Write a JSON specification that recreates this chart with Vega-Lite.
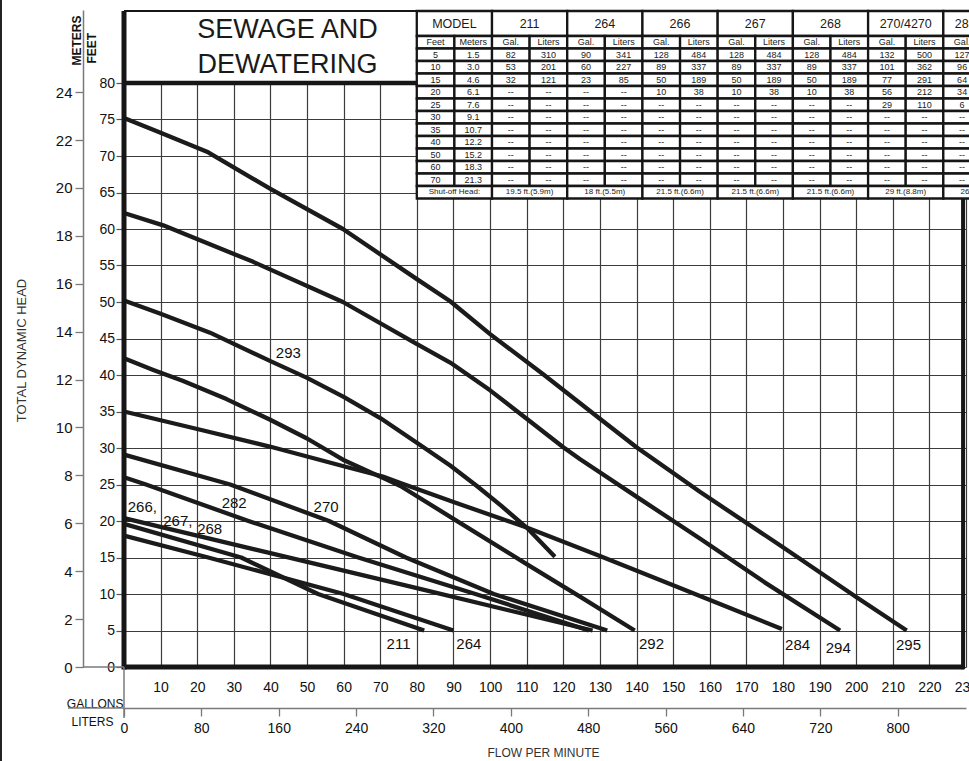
{
 "$schema": "https://vega.github.io/schema/vega-lite/v6.json",
 "width": 842,
 "height": 657,
 "autosize": {"type": "none"},
 "padding": {"left": 124, "top": 10, "right": 3, "bottom": 94},
 "background": "#ffffff",
 "config": {
  "view": {"stroke": null},
  "font": "Liberation Sans",
  "axis": {"labelFont": "Liberation Sans", "titleFont": "Liberation Sans", "labelColor": "#111111", "titleColor": "#111111", "titleFontWeight": "normal", "labelOverlap": false, "labelFlush": false}
 },
 "datasets": {
  "curves": [
   {"m":"295","g":0,"h":75.2},{"m":"295","g":10,"h":73.2},{"m":"295","g":23,"h":70.5},{"m":"295","g":40,"h":65.5},{"m":"295","g":59.8,"h":60},{"m":"295","g":79.8,"h":53.2},{"m":"295","g":89.1,"h":50.1},{"m":"295","g":100,"h":45.6},{"m":"295","g":114.5,"h":40.1},{"m":"295","g":130,"h":34},{"m":"295","g":140,"h":30.1},{"m":"295","g":157.3,"h":24},{"m":"295","g":180,"h":16.4},{"m":"295","g":200,"h":9.6},{"m":"295","g":213.8,"h":5},
   {"m":"294","g":0,"h":62.2},{"m":"294","g":10.7,"h":60.5},{"m":"294","g":35.3,"h":55.5},{"m":"294","g":59.8,"h":50},{"m":"294","g":79.8,"h":44.3},{"m":"294","g":89.1,"h":41.7},{"m":"294","g":100,"h":37.9},{"m":"294","g":110,"h":34},{"m":"294","g":120,"h":30.1},{"m":"294","g":124.5,"h":28.5},{"m":"294","g":141,"h":23},{"m":"294","g":157.3,"h":17.6},{"m":"294","g":175,"h":11.6},{"m":"294","g":195.6,"h":5},
   {"m":"293","g":0,"h":50.2},{"m":"293","g":10,"h":48.4},{"m":"293","g":23.5,"h":45.8},{"m":"293","g":40,"h":41.9},{"m":"293","g":50,"h":39.6},{"m":"293","g":60,"h":37},{"m":"293","g":70,"h":34.1},{"m":"293","g":80.9,"h":30.4},{"m":"293","g":89.1,"h":27.6},{"m":"293","g":96.4,"h":24.8},{"m":"293","g":103,"h":22.1},{"m":"293","g":110,"h":19.1},{"m":"293","g":117.7,"h":15.1},
   {"m":"292","g":0,"h":42.3},{"m":"292","g":8,"h":40.7},{"m":"292","g":16,"h":39.2},{"m":"292","g":28,"h":36.7},{"m":"292","g":39.8,"h":33.9},{"m":"292","g":50,"h":31.3},{"m":"292","g":59.8,"h":28.4},{"m":"292","g":71.6,"h":25.7},{"m":"292","g":75.5,"h":24.8},{"m":"292","g":90,"h":20.3},{"m":"292","g":110,"h":14.1},{"m":"292","g":125,"h":9.5},{"m":"292","g":139.5,"h":5},
   {"m":"284","g":0,"h":35},{"m":"284","g":20,"h":32.6},{"m":"284","g":39.8,"h":30.2},{"m":"284","g":60,"h":27.5},{"m":"284","g":70.7,"h":26.1},{"m":"284","g":75.5,"h":25.2},{"m":"284","g":90,"h":22.6},{"m":"284","g":110,"h":19.1},{"m":"284","g":130,"h":15.2},{"m":"284","g":150,"h":11.2},{"m":"284","g":165,"h":8.2},{"m":"284","g":179.7,"h":5.2},
   {"m":"270","g":0,"h":29.1},{"m":"270","g":29,"h":25},{"m":"270","g":56,"h":20},{"m":"270","g":77,"h":15},{"m":"270","g":101,"h":10},{"m":"270","g":132,"h":5},
   {"m":"282","g":0,"h":26},{"m":"282","g":6,"h":25},{"m":"282","g":34,"h":20},{"m":"282","g":64,"h":15},{"m":"282","g":96,"h":10},{"m":"282","g":127,"h":5},
   {"m":"266/267/268","g":0,"h":20.4},{"m":"266/267/268","g":40,"h":15.6},{"m":"266/267/268","g":80,"h":10.8},{"m":"266/267/268","g":128,"h":5},
   {"m":"264","g":0,"h":18},{"m":"264","g":23,"h":15},{"m":"264","g":60,"h":10},{"m":"264","g":90,"h":5},
   {"m":"211","g":0,"h":19.6},{"m":"211","g":32,"h":15},{"m":"211","g":53,"h":10},{"m":"211","g":82,"h":5}
  ],
  "labels": [
   {"t":"293","g":44.9,"h":43.0},
   {"t":"266,","g":5.0,"h":21.9},
   {"t":"267,","g":14.7,"h":20.0},
   {"t":"268","g":23.4,"h":18.9},
   {"t":"282","g":30.1,"h":22.4},
   {"t":"270","g":55.2,"h":21.95},
   {"t":"211","g":75.0,"h":3.15},
   {"t":"264","g":94.2,"h":3.1},
   {"t":"292","g":144.1,"h":3.1},
   {"t":"284","g":184.0,"h":2.95},
   {"t":"294","g":195.1,"h":2.65},
   {"t":"295","g":214.3,"h":2.95}
  ],
  "cells": [
   {"c0":0,"c1":2,"r0":0,"r1":2,"t":"MODEL"},
   {"c0":2,"c1":4,"r0":0,"r1":2,"t":"211"},
   {"c0":4,"c1":6,"r0":0,"r1":2,"t":"264"},
   {"c0":6,"c1":8,"r0":0,"r1":2,"t":"266"},
   {"c0":8,"c1":10,"r0":0,"r1":2,"t":"267"},
   {"c0":10,"c1":12,"r0":0,"r1":2,"t":"268"},
   {"c0":12,"c1":14,"r0":0,"r1":2,"t":"270/4270"},
   {"c0":14,"c1":16,"r0":0,"r1":2,"t":"282/4282"},
   {"c0":0,"c1":1,"r0":2,"r1":3,"t":"Feet"},{"c0":1,"c1":2,"r0":2,"r1":3,"t":"Meters"},
   {"c0":2,"c1":3,"r0":2,"r1":3,"t":"Gal."},{"c0":3,"c1":4,"r0":2,"r1":3,"t":"Liters"},
   {"c0":4,"c1":5,"r0":2,"r1":3,"t":"Gal."},{"c0":5,"c1":6,"r0":2,"r1":3,"t":"Liters"},
   {"c0":6,"c1":7,"r0":2,"r1":3,"t":"Gal."},{"c0":7,"c1":8,"r0":2,"r1":3,"t":"Liters"},
   {"c0":8,"c1":9,"r0":2,"r1":3,"t":"Gal."},{"c0":9,"c1":10,"r0":2,"r1":3,"t":"Liters"},
   {"c0":10,"c1":11,"r0":2,"r1":3,"t":"Gal."},{"c0":11,"c1":12,"r0":2,"r1":3,"t":"Liters"},
   {"c0":12,"c1":13,"r0":2,"r1":3,"t":"Gal."},{"c0":13,"c1":14,"r0":2,"r1":3,"t":"Liters"},
   {"c0":14,"c1":15,"r0":2,"r1":3,"t":"Gal."},{"c0":15,"c1":16,"r0":2,"r1":3,"t":"Liters"},
   {"c0":0,"c1":1,"r0":3,"r1":4,"t":"5"},{"c0":1,"c1":2,"r0":3,"r1":4,"t":"1.5"},{"c0":2,"c1":3,"r0":3,"r1":4,"t":"82"},{"c0":3,"c1":4,"r0":3,"r1":4,"t":"310"},{"c0":4,"c1":5,"r0":3,"r1":4,"t":"90"},{"c0":5,"c1":6,"r0":3,"r1":4,"t":"341"},{"c0":6,"c1":7,"r0":3,"r1":4,"t":"128"},{"c0":7,"c1":8,"r0":3,"r1":4,"t":"484"},{"c0":8,"c1":9,"r0":3,"r1":4,"t":"128"},{"c0":9,"c1":10,"r0":3,"r1":4,"t":"484"},{"c0":10,"c1":11,"r0":3,"r1":4,"t":"128"},{"c0":11,"c1":12,"r0":3,"r1":4,"t":"484"},{"c0":12,"c1":13,"r0":3,"r1":4,"t":"132"},{"c0":13,"c1":14,"r0":3,"r1":4,"t":"500"},{"c0":14,"c1":15,"r0":3,"r1":4,"t":"127"},{"c0":15,"c1":16,"r0":3,"r1":4,"t":"481"},
   {"c0":0,"c1":1,"r0":4,"r1":5,"t":"10"},{"c0":1,"c1":2,"r0":4,"r1":5,"t":"3.0"},{"c0":2,"c1":3,"r0":4,"r1":5,"t":"53"},{"c0":3,"c1":4,"r0":4,"r1":5,"t":"201"},{"c0":4,"c1":5,"r0":4,"r1":5,"t":"60"},{"c0":5,"c1":6,"r0":4,"r1":5,"t":"227"},{"c0":6,"c1":7,"r0":4,"r1":5,"t":"89"},{"c0":7,"c1":8,"r0":4,"r1":5,"t":"337"},{"c0":8,"c1":9,"r0":4,"r1":5,"t":"89"},{"c0":9,"c1":10,"r0":4,"r1":5,"t":"337"},{"c0":10,"c1":11,"r0":4,"r1":5,"t":"89"},{"c0":11,"c1":12,"r0":4,"r1":5,"t":"337"},{"c0":12,"c1":13,"r0":4,"r1":5,"t":"101"},{"c0":13,"c1":14,"r0":4,"r1":5,"t":"362"},{"c0":14,"c1":15,"r0":4,"r1":5,"t":"96"},{"c0":15,"c1":16,"r0":4,"r1":5,"t":"363"},
   {"c0":0,"c1":1,"r0":5,"r1":6,"t":"15"},{"c0":1,"c1":2,"r0":5,"r1":6,"t":"4.6"},{"c0":2,"c1":3,"r0":5,"r1":6,"t":"32"},{"c0":3,"c1":4,"r0":5,"r1":6,"t":"121"},{"c0":4,"c1":5,"r0":5,"r1":6,"t":"23"},{"c0":5,"c1":6,"r0":5,"r1":6,"t":"85"},{"c0":6,"c1":7,"r0":5,"r1":6,"t":"50"},{"c0":7,"c1":8,"r0":5,"r1":6,"t":"189"},{"c0":8,"c1":9,"r0":5,"r1":6,"t":"50"},{"c0":9,"c1":10,"r0":5,"r1":6,"t":"189"},{"c0":10,"c1":11,"r0":5,"r1":6,"t":"50"},{"c0":11,"c1":12,"r0":5,"r1":6,"t":"189"},{"c0":12,"c1":13,"r0":5,"r1":6,"t":"77"},{"c0":13,"c1":14,"r0":5,"r1":6,"t":"291"},{"c0":14,"c1":15,"r0":5,"r1":6,"t":"64"},{"c0":15,"c1":16,"r0":5,"r1":6,"t":"242"},
   {"c0":0,"c1":1,"r0":6,"r1":7,"t":"20"},{"c0":1,"c1":2,"r0":6,"r1":7,"t":"6.1"},{"c0":2,"c1":3,"r0":6,"r1":7,"t":"--"},{"c0":3,"c1":4,"r0":6,"r1":7,"t":"--"},{"c0":4,"c1":5,"r0":6,"r1":7,"t":"--"},{"c0":5,"c1":6,"r0":6,"r1":7,"t":"--"},{"c0":6,"c1":7,"r0":6,"r1":7,"t":"10"},{"c0":7,"c1":8,"r0":6,"r1":7,"t":"38"},{"c0":8,"c1":9,"r0":6,"r1":7,"t":"10"},{"c0":9,"c1":10,"r0":6,"r1":7,"t":"38"},{"c0":10,"c1":11,"r0":6,"r1":7,"t":"10"},{"c0":11,"c1":12,"r0":6,"r1":7,"t":"38"},{"c0":12,"c1":13,"r0":6,"r1":7,"t":"56"},{"c0":13,"c1":14,"r0":6,"r1":7,"t":"212"},{"c0":14,"c1":15,"r0":6,"r1":7,"t":"34"},{"c0":15,"c1":16,"r0":6,"r1":7,"t":"129"},
   {"c0":0,"c1":1,"r0":7,"r1":8,"t":"25"},{"c0":1,"c1":2,"r0":7,"r1":8,"t":"7.6"},{"c0":2,"c1":3,"r0":7,"r1":8,"t":"--"},{"c0":3,"c1":4,"r0":7,"r1":8,"t":"--"},{"c0":4,"c1":5,"r0":7,"r1":8,"t":"--"},{"c0":5,"c1":6,"r0":7,"r1":8,"t":"--"},{"c0":6,"c1":7,"r0":7,"r1":8,"t":"--"},{"c0":7,"c1":8,"r0":7,"r1":8,"t":"--"},{"c0":8,"c1":9,"r0":7,"r1":8,"t":"--"},{"c0":9,"c1":10,"r0":7,"r1":8,"t":"--"},{"c0":10,"c1":11,"r0":7,"r1":8,"t":"--"},{"c0":11,"c1":12,"r0":7,"r1":8,"t":"--"},{"c0":12,"c1":13,"r0":7,"r1":8,"t":"29"},{"c0":13,"c1":14,"r0":7,"r1":8,"t":"110"},{"c0":14,"c1":15,"r0":7,"r1":8,"t":"6"},{"c0":15,"c1":16,"r0":7,"r1":8,"t":"23"},
   {"c0":0,"c1":1,"r0":8,"r1":9,"t":"30"},{"c0":1,"c1":2,"r0":8,"r1":9,"t":"9.1"},{"c0":2,"c1":3,"r0":8,"r1":9,"t":"--"},{"c0":3,"c1":4,"r0":8,"r1":9,"t":"--"},{"c0":4,"c1":5,"r0":8,"r1":9,"t":"--"},{"c0":5,"c1":6,"r0":8,"r1":9,"t":"--"},{"c0":6,"c1":7,"r0":8,"r1":9,"t":"--"},{"c0":7,"c1":8,"r0":8,"r1":9,"t":"--"},{"c0":8,"c1":9,"r0":8,"r1":9,"t":"--"},{"c0":9,"c1":10,"r0":8,"r1":9,"t":"--"},{"c0":10,"c1":11,"r0":8,"r1":9,"t":"--"},{"c0":11,"c1":12,"r0":8,"r1":9,"t":"--"},{"c0":12,"c1":13,"r0":8,"r1":9,"t":"--"},{"c0":13,"c1":14,"r0":8,"r1":9,"t":"--"},{"c0":14,"c1":15,"r0":8,"r1":9,"t":"--"},{"c0":15,"c1":16,"r0":8,"r1":9,"t":"--"},
   {"c0":0,"c1":1,"r0":9,"r1":10,"t":"35"},{"c0":1,"c1":2,"r0":9,"r1":10,"t":"10.7"},{"c0":2,"c1":3,"r0":9,"r1":10,"t":"--"},{"c0":3,"c1":4,"r0":9,"r1":10,"t":"--"},{"c0":4,"c1":5,"r0":9,"r1":10,"t":"--"},{"c0":5,"c1":6,"r0":9,"r1":10,"t":"--"},{"c0":6,"c1":7,"r0":9,"r1":10,"t":"--"},{"c0":7,"c1":8,"r0":9,"r1":10,"t":"--"},{"c0":8,"c1":9,"r0":9,"r1":10,"t":"--"},{"c0":9,"c1":10,"r0":9,"r1":10,"t":"--"},{"c0":10,"c1":11,"r0":9,"r1":10,"t":"--"},{"c0":11,"c1":12,"r0":9,"r1":10,"t":"--"},{"c0":12,"c1":13,"r0":9,"r1":10,"t":"--"},{"c0":13,"c1":14,"r0":9,"r1":10,"t":"--"},{"c0":14,"c1":15,"r0":9,"r1":10,"t":"--"},{"c0":15,"c1":16,"r0":9,"r1":10,"t":"--"},
   {"c0":0,"c1":1,"r0":10,"r1":11,"t":"40"},{"c0":1,"c1":2,"r0":10,"r1":11,"t":"12.2"},{"c0":2,"c1":3,"r0":10,"r1":11,"t":"--"},{"c0":3,"c1":4,"r0":10,"r1":11,"t":"--"},{"c0":4,"c1":5,"r0":10,"r1":11,"t":"--"},{"c0":5,"c1":6,"r0":10,"r1":11,"t":"--"},{"c0":6,"c1":7,"r0":10,"r1":11,"t":"--"},{"c0":7,"c1":8,"r0":10,"r1":11,"t":"--"},{"c0":8,"c1":9,"r0":10,"r1":11,"t":"--"},{"c0":9,"c1":10,"r0":10,"r1":11,"t":"--"},{"c0":10,"c1":11,"r0":10,"r1":11,"t":"--"},{"c0":11,"c1":12,"r0":10,"r1":11,"t":"--"},{"c0":12,"c1":13,"r0":10,"r1":11,"t":"--"},{"c0":13,"c1":14,"r0":10,"r1":11,"t":"--"},{"c0":14,"c1":15,"r0":10,"r1":11,"t":"--"},{"c0":15,"c1":16,"r0":10,"r1":11,"t":"--"},
   {"c0":0,"c1":1,"r0":11,"r1":12,"t":"50"},{"c0":1,"c1":2,"r0":11,"r1":12,"t":"15.2"},{"c0":2,"c1":3,"r0":11,"r1":12,"t":"--"},{"c0":3,"c1":4,"r0":11,"r1":12,"t":"--"},{"c0":4,"c1":5,"r0":11,"r1":12,"t":"--"},{"c0":5,"c1":6,"r0":11,"r1":12,"t":"--"},{"c0":6,"c1":7,"r0":11,"r1":12,"t":"--"},{"c0":7,"c1":8,"r0":11,"r1":12,"t":"--"},{"c0":8,"c1":9,"r0":11,"r1":12,"t":"--"},{"c0":9,"c1":10,"r0":11,"r1":12,"t":"--"},{"c0":10,"c1":11,"r0":11,"r1":12,"t":"--"},{"c0":11,"c1":12,"r0":11,"r1":12,"t":"--"},{"c0":12,"c1":13,"r0":11,"r1":12,"t":"--"},{"c0":13,"c1":14,"r0":11,"r1":12,"t":"--"},{"c0":14,"c1":15,"r0":11,"r1":12,"t":"--"},{"c0":15,"c1":16,"r0":11,"r1":12,"t":"--"},
   {"c0":0,"c1":1,"r0":12,"r1":13,"t":"60"},{"c0":1,"c1":2,"r0":12,"r1":13,"t":"18.3"},{"c0":2,"c1":3,"r0":12,"r1":13,"t":"--"},{"c0":3,"c1":4,"r0":12,"r1":13,"t":"--"},{"c0":4,"c1":5,"r0":12,"r1":13,"t":"--"},{"c0":5,"c1":6,"r0":12,"r1":13,"t":"--"},{"c0":6,"c1":7,"r0":12,"r1":13,"t":"--"},{"c0":7,"c1":8,"r0":12,"r1":13,"t":"--"},{"c0":8,"c1":9,"r0":12,"r1":13,"t":"--"},{"c0":9,"c1":10,"r0":12,"r1":13,"t":"--"},{"c0":10,"c1":11,"r0":12,"r1":13,"t":"--"},{"c0":11,"c1":12,"r0":12,"r1":13,"t":"--"},{"c0":12,"c1":13,"r0":12,"r1":13,"t":"--"},{"c0":13,"c1":14,"r0":12,"r1":13,"t":"--"},{"c0":14,"c1":15,"r0":12,"r1":13,"t":"--"},{"c0":15,"c1":16,"r0":12,"r1":13,"t":"--"},
   {"c0":0,"c1":1,"r0":13,"r1":14,"t":"70"},{"c0":1,"c1":2,"r0":13,"r1":14,"t":"21.3"},{"c0":2,"c1":3,"r0":13,"r1":14,"t":"--"},{"c0":3,"c1":4,"r0":13,"r1":14,"t":"--"},{"c0":4,"c1":5,"r0":13,"r1":14,"t":"--"},{"c0":5,"c1":6,"r0":13,"r1":14,"t":"--"},{"c0":6,"c1":7,"r0":13,"r1":14,"t":"--"},{"c0":7,"c1":8,"r0":13,"r1":14,"t":"--"},{"c0":8,"c1":9,"r0":13,"r1":14,"t":"--"},{"c0":9,"c1":10,"r0":13,"r1":14,"t":"--"},{"c0":10,"c1":11,"r0":13,"r1":14,"t":"--"},{"c0":11,"c1":12,"r0":13,"r1":14,"t":"--"},{"c0":12,"c1":13,"r0":13,"r1":14,"t":"--"},{"c0":13,"c1":14,"r0":13,"r1":14,"t":"--"},{"c0":14,"c1":15,"r0":13,"r1":14,"t":"--"},{"c0":15,"c1":16,"r0":13,"r1":14,"t":"--"},
   {"c0":0,"c1":2,"r0":14,"r1":15,"t":"Shut-off Head:"},
   {"c0":2,"c1":4,"r0":14,"r1":15,"t":"19.5 ft.(5.9m)"},
   {"c0":4,"c1":6,"r0":14,"r1":15,"t":"18 ft.(5.5m)"},
   {"c0":6,"c1":8,"r0":14,"r1":15,"t":"21.5 ft.(6.6m)"},
   {"c0":8,"c1":10,"r0":14,"r1":15,"t":"21.5 ft.(6.6m)"},
   {"c0":10,"c1":12,"r0":14,"r1":15,"t":"21.5 ft.(6.6m)"},
   {"c0":12,"c1":14,"r0":14,"r1":15,"t":"29 ft.(8.8m)"},
   {"c0":14,"c1":16,"r0":14,"r1":15,"t":"26 ft.(7.9m)"}
  ]
 },
 "resolve": {"scale": {"x": "independent", "y": "independent"}},
 "layer": [
  {
   "layer": [
    {
     "data": {"values": [{}]},
     "mark": {"type": "rect", "fill": "#ffffff"},
     "encoding": {"x": {"datum": 0}, "x2": {"datum": 80}, "y": {"datum": 80}, "y2": {"datum": 89.86}}
    },
    {
     "data": {"name": "curves"},
     "mark": {"type": "line", "stroke": "#1b1b1b", "strokeWidth": 4.3, "strokeCap": "butt", "strokeJoin": "round"},
     "encoding": {
      "x": {"field": "g", "type": "quantitative", "scale": {"domain": [0, 230], "nice": false, "zero": false},
       "axis": {"orient": "bottom", "values": [10,30,50,70,90,110,130,150,170,190,210,230], "labelOverlap": false, "labelFlush": false, "labelBound": false, "ticks": false, "domain": false, "grid": true, "gridColor": "#3c3c3c", "gridWidth": 1.2, "labelFontSize": 14, "labelPadding": 13, "title": "GALLONS", "titleFontSize": 12, "titleAlign": "right", "titleBaseline": "alphabetic", "titleAngle": 0, "titleX": -1, "titleY": 40}},
      "y": {"field": "h", "type": "quantitative", "scale": {"domain": [0, 90], "nice": false, "zero": false},
       "axis": {"orient": "left", "values": [0,5,10,15,20,25,30,35,40,45,50,55,60,65,70,75,80], "labelOverlap": false, "domain": false, "ticks": true, "tickSize": 8, "tickColor": "#555555", "tickWidth": 1.2, "grid": true, "gridColor": "#3c3c3c", "gridWidth": 1.2, "labelFontSize": 14, "labelPadding": 1.5, "title": "FEET", "titleFontSize": 12, "titleFontWeight": "bold", "titleAngle": 270, "titleAlign": "left", "titleBaseline": "alphabetic", "titleX": -29, "titleY": 53}},
      "detail": {"field": "m"}
     }
    },
    {
     "data": {"name": "labels"},
     "mark": {"type": "text", "fontSize": 15, "color": "#111111", "align": "center", "baseline": "middle"},
     "encoding": {"x": {"field": "g", "type": "quantitative"}, "y": {"field": "h", "type": "quantitative"}, "text": {"field": "t"}}
    },
    {
     "data": {"values": [{}]},
     "mark": {"type": "rule", "stroke": "#161616", "strokeWidth": 5},
     "encoding": {"x": {"datum": 0}, "y": {"datum": -0.35}, "y2": {"datum": 89.86}}
    },
    {
     "data": {"values": [{}]},
     "mark": {"type": "rule", "stroke": "#161616", "strokeWidth": 5},
     "encoding": {"x": {"datum": -0.3}, "x2": {"datum": 229.4}, "y": {"datum": 0}}
    },
    {
     "data": {"values": [{}]},
     "mark": {"type": "rule", "stroke": "#161616", "strokeWidth": 4},
     "encoding": {"x": {"datum": 229.2}, "y": {"datum": -0.3}, "y2": {"datum": 70}}
    },
    {
     "data": {"values": [{}]},
     "mark": {"type": "rule", "stroke": "#161616", "strokeWidth": 4.5},
     "encoding": {"x": {"datum": 0}, "x2": {"datum": 80}, "y": {"datum": 80}}
    },
    {
     "data": {"values": [{}]},
     "mark": {"type": "rule", "stroke": "#161616", "strokeWidth": 2.2},
     "encoding": {"x": {"datum": 0}, "x2": {"datum": 80}, "y": {"datum": 89.86}}
    },
    {
     "data": {"values": [{}]},
     "mark": {"type": "rule", "stroke": "#222222", "strokeWidth": 2},
     "encoding": {"x": {"datum": -33.6}, "y": {"datum": -14}, "y2": {"datum": 92}}
    },
    {
     "data": {"values": [{}]},
     "mark": {"type": "rule", "stroke": "#7a7a7a", "strokeWidth": 1.5},
     "encoding": {"x": {"datum": -15.3}, "x2": {"datum": 0}, "y": {"datum": -5.616}}
    },
    {
     "data": {"values": [{}]},
     "mark": {"type": "rule", "stroke": "#7a7a7a", "strokeWidth": 1.5},
     "encoding": {"x": {"datum": 0}, "y": {"datum": 0}, "y2": {"datum": -6.99}}
    },
    {
     "data": {"values": [{}]},
     "mark": {"type": "rule", "stroke": "#7a7a7a", "strokeWidth": 1.5},
     "encoding": {"x": {"datum": -11.2}, "x2": {"datum": 0}, "y": {"datum": 0}}
    },
    {
     "data": {"values": [{}]},
     "mark": {"type": "text", "fontSize": 27, "align": "center", "baseline": "alphabetic", "color": "#1a1a1a"},
     "encoding": {"x": {"datum": 44.66}, "y": {"datum": 86.12}, "text": {"value": "SEWAGE AND"}}
    },
    {
     "data": {"values": [{}]},
     "mark": {"type": "text", "fontSize": 27, "align": "center", "baseline": "alphabetic", "color": "#1a1a1a"},
     "encoding": {"x": {"datum": 44.66}, "y": {"datum": 81.33}, "text": {"value": "DEWATERING"}}
    }
   ]
  },
  {
   "data": {"values": [{"m": 0}, {"m": 24}]},
   "mark": {"type": "point", "opacity": 0},
   "encoding": {
    "y": {"field": "m", "type": "quantitative", "scale": {"domain": [0, 27.432], "nice": false, "zero": false},
     "axis": {"orient": "left", "offset": 41, "values": [0,2,4,6,8,10,12,14,16,18,20,22,24], "labelOverlap": false, "domain": true, "domainColor": "#7a7a7a", "domainWidth": 1.5, "ticks": true, "tickSize": 8, "tickColor": "#7a7a7a", "tickWidth": 1.3, "grid": false, "labelFontSize": 15, "labelPadding": 3, "title": "METERS", "titleFontSize": 12, "titleFontWeight": "bold", "titleAngle": 270, "titleAlign": "left", "titleBaseline": "alphabetic", "titleX": -3, "titleY": 55}}
   }
  },
  {
   "data": {"values": [{"l": 0}, {"l": 800}]},
   "mark": {"type": "point", "opacity": 0},
   "encoding": {
    "x": {"field": "l", "type": "quantitative", "scale": {"domain": [0, 870.64], "nice": false, "zero": false},
     "axis": {"orient": "bottom", "offset": 41, "values": [0,80,160,240,320,400,480,560,640,720,800], "labelOverlap": false, "labelFlush": false, "domain": true, "domainColor": "#7a7a7a", "domainWidth": 1.5, "ticks": true, "tickSize": 8, "tickColor": "#7a7a7a", "tickWidth": 1.3, "grid": false, "labelFontSize": 14, "labelPadding": 5, "title": "LITERS", "titleFontSize": 12, "titleAlign": "right", "titleBaseline": "alphabetic", "titleAngle": 0, "titleX": -11, "titleY": 17}}
   }
  },
  {
   "data": {"name": "curves"},
   "mark": {"type": "point", "opacity": 0},
   "encoding": {
    "x": {"field": "g", "type": "quantitative", "scale": {"domain": [0, 230], "nice": false, "zero": false},
     "axis": {"orient": "bottom", "values": [20,40,60,80,100,120,140,160,180,200,220], "labels": true, "labelOverlap": false, "labelFlush": false, "labelBound": false, "labelFontSize": 14, "labelPadding": 13, "ticks": false, "domain": false, "grid": true, "gridColor": "#3c3c3c", "gridWidth": 1.2, "title": "FLOW PER MINUTE", "titleFontSize": 12, "titleColor": "#333333", "titleAlign": "center", "titleBaseline": "alphabetic", "titleAngle": 0, "titleX": 419, "titleY": 89}},
    "y": {"field": "h", "type": "quantitative", "scale": {"domain": [0, 90], "nice": false, "zero": false},
     "axis": {"orient": "left", "labels": false, "ticks": false, "domain": false, "grid": false, "title": "TOTAL DYNAMIC HEAD", "titleFontSize": 13, "titleColor": "#333333", "titleAngle": 270, "titleAlign": "center", "titleBaseline": "alphabetic", "titleX": -99, "titleY": 340}}
   }
  },
  {
   "data": {"name": "cells"},
   "encoding": {
    "x": {"field": "c0", "type": "quantitative", "scale": {"domain": [-7.785, 14.603], "nice": false, "zero": false}, "axis": null},
    "y": {"field": "r0", "type": "quantitative", "scale": {"domain": [-0.08, 52.48], "nice": false, "zero": false, "reverse": true}, "axis": null}
   },
   "layer": [
    {"mark": {"type": "rect", "fill": "#ffffff", "stroke": "#161616", "strokeWidth": 2.3}, "encoding": {"x2": {"field": "c1"}, "y2": {"field": "r1"}}},
    {"transform": [{"filter": "datum.r0 == 0"}], "mark": {"type": "text", "fontSize": 12.5, "dx": 37.6, "dy": 12.5, "align": "center", "baseline": "middle", "color": "#1a1a1a"}, "encoding": {"text": {"field": "t"}}},
    {"transform": [{"filter": "datum.r0 >= 2 && datum.r0 <= 13"}], "mark": {"type": "text", "fontSize": 9, "dx": 18.8, "dy": 6.25, "align": "center", "baseline": "middle", "color": "#1a1a1a"}, "encoding": {"text": {"field": "t"}}},
    {"transform": [{"filter": "datum.r0 == 14"}], "mark": {"type": "text", "fontSize": 8, "dx": 37.6, "dy": 6.25, "align": "center", "baseline": "middle", "color": "#1a1a1a"}, "encoding": {"text": {"field": "t"}}}
   ]
  }
 ]
}
